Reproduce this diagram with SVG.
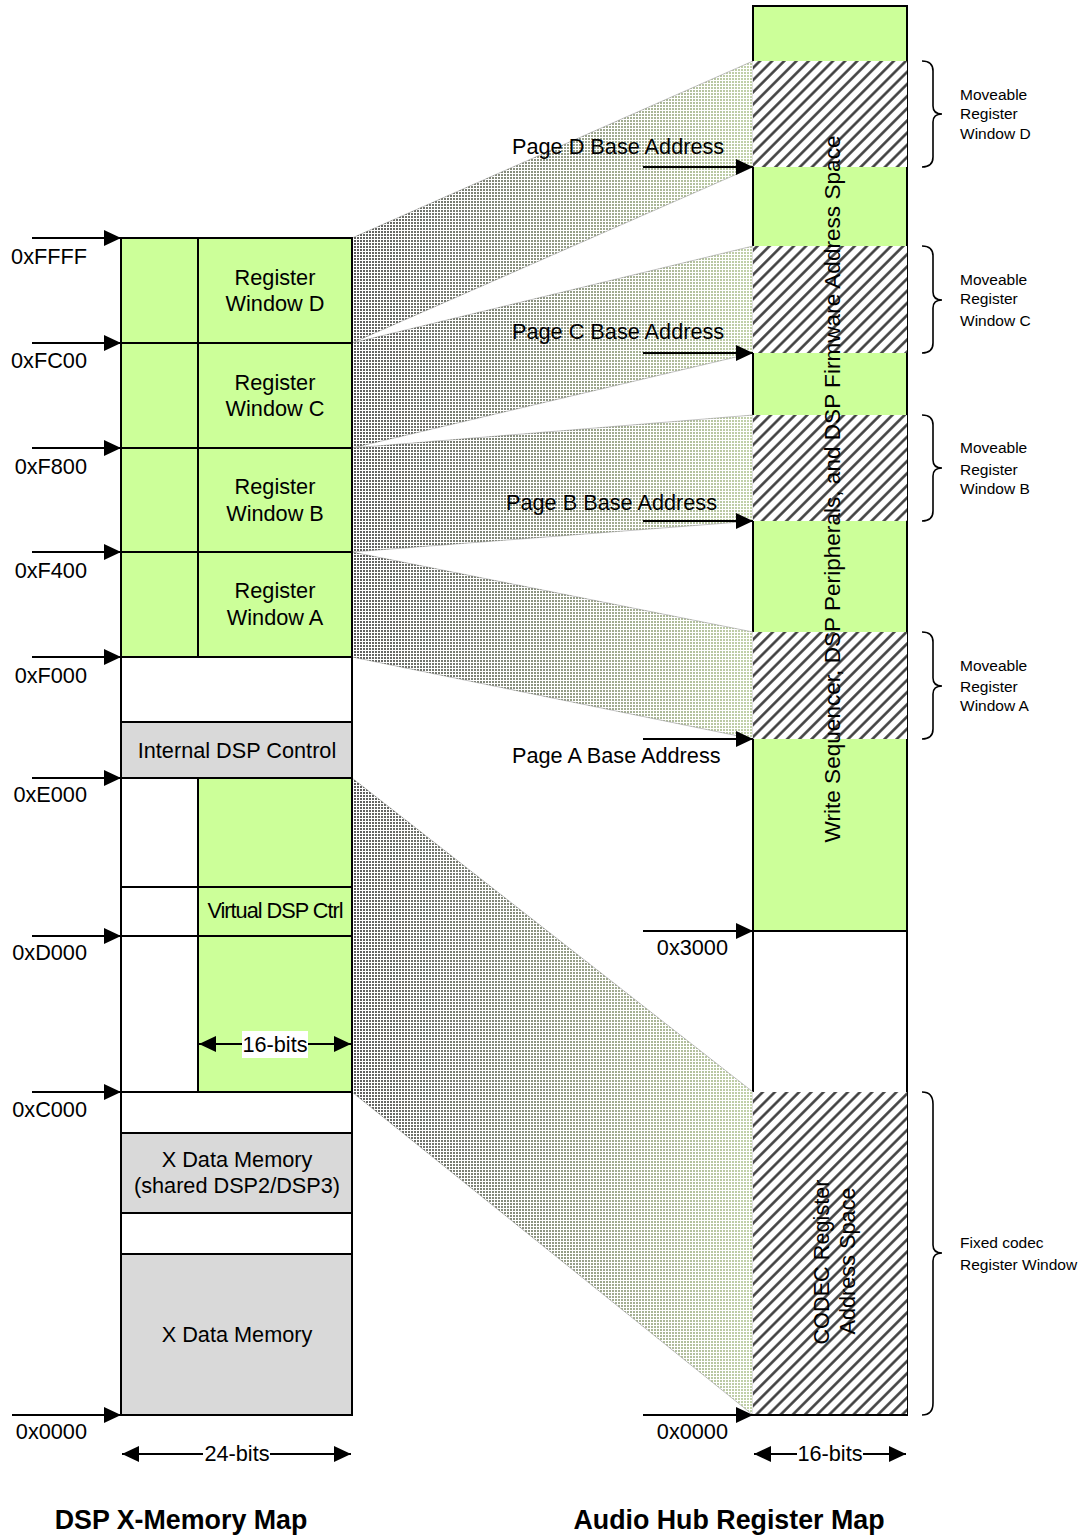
<svg xmlns="http://www.w3.org/2000/svg" width="1083" height="1536" viewBox="0 0 1083 1536">
<style>
text{font-family:"Liberation Sans",Arial,sans-serif;fill:#000}
.t{font-size:21.7px}
.c{text-anchor:middle}
.e{text-anchor:end}
.s{font-size:15.5px}
.h{font-size:26.8px;font-weight:bold;text-anchor:middle}
.box{stroke:#000;stroke-width:2}
.g{fill:#ccff99}
.w{fill:#fff}
.k{fill:#d9d9d9}
.ln{stroke:#000;stroke-width:2;fill:none}
.arr{stroke:#000;stroke-width:2;fill:none;marker-end:url(#ah)}
.dbl{stroke:#000;stroke-width:2;fill:none;marker-end:url(#ah);marker-start:url(#ahs)}
.br{stroke:#000;stroke-width:1.6;fill:none}
.band{stroke:#9a9a9a;stroke-width:0.6}
</style>
<defs>
<marker id="ah" markerUnits="userSpaceOnUse" markerWidth="18" markerHeight="16" refX="17" refY="8" orient="auto"><path d="M0,0 L17,8 L0,16 z" fill="#000"/></marker>
<marker id="ahs" markerUnits="userSpaceOnUse" markerWidth="18" markerHeight="16" refX="17" refY="8" orient="auto-start-reverse"><path d="M0,0 L17,8 L0,16 z" fill="#000"/></marker>
<pattern id="dotG" width="3" height="3" patternUnits="userSpaceOnUse"><rect width="3" height="3" fill="#fff"/><rect width="2" height="2" fill="#c3d3aa"/></pattern>
<pattern id="dotK" width="3" height="3" patternUnits="userSpaceOnUse"><rect width="2" height="2" fill="#5e5e5e"/></pattern>
<linearGradient id="fade" gradientUnits="userSpaceOnUse" x1="352" y1="0" x2="753" y2="0"><stop offset="0" stop-color="#fff"/><stop offset="1" stop-color="#000"/></linearGradient>
<mask id="fm" maskUnits="userSpaceOnUse" x="340" y="0" width="420" height="1536"><rect x="340" y="0" width="420" height="1536" fill="url(#fade)"/></mask>
<pattern id="hatch" width="8.6" height="8.6" patternUnits="userSpaceOnUse" patternTransform="rotate(45)"><rect width="8.6" height="8.6" fill="#fff"/><line x1="4.3" y1="0" x2="4.3" y2="8.6" stroke="#3a3a3a" stroke-width="2.5"/></pattern>
</defs>

<g id="hub-column">
<rect x="753" y="6" width="154" height="925" class="box g"/>
<rect x="753" y="931" width="154" height="484" class="box w"/>
</g>

<g id="bands">
<g id="bands-green">
<polygon class="band" fill="url(#dotG)" points="352,238 753,61 753,167 352,343"/>
<polygon class="band" fill="url(#dotG)" points="352,343 753,246 753,353 352,448"/>
<polygon class="band" fill="url(#dotG)" points="352,448 753,415 753,521 352,552"/>
<polygon class="band" fill="url(#dotG)" points="352,552 753,632 753,739 352,657"/>
<polygon class="band" fill="url(#dotG)" points="352,778 753,1092 753,1415 352,1092"/>
</g>
<g id="bands-gray" mask="url(#fm)" fill="url(#dotK)">
<polygon points="352,238 753,61 753,167 352,343"/>
<polygon points="352,343 753,246 753,353 352,448"/>
<polygon points="352,448 753,415 753,521 352,552"/>
<polygon points="352,552 753,632 753,739 352,657"/>
<polygon points="352,778 753,1092 753,1415 352,1092"/>
</g>
</g>

<g id="hub-windows">
<rect id="win-d" x="753" y="61" width="154" height="106" fill="url(#hatch)"/>
<rect id="win-c" x="753" y="246" width="154" height="107" fill="url(#hatch)"/>
<rect id="win-b" x="753" y="415" width="154" height="106" fill="url(#hatch)"/>
<rect id="win-a" x="753" y="632" width="154" height="107" fill="url(#hatch)"/>
<rect id="win-codec" x="753" y="1092" width="154" height="323" fill="url(#hatch)"/>
<line x1="752" y1="1415" x2="908" y2="1415" class="ln"/>
<text class="c" font-size="22.6" transform="translate(840,489) rotate(-90)">Write Sequencer, DSP Peripherals, and DSP Firmware Address Space</text>
<text class="t c" transform="translate(829,1262) rotate(-90)">CODEC Register</text>
<text class="t c" transform="translate(855,1261) rotate(-90)">Address Space</text>
</g>

<g id="xmem">
<g id="reg-d"><rect x="121" y="238" width="231" height="105" class="box g"/><line x1="198" y1="238" x2="198" y2="343" class="ln"/><text class="t c" x="275" y="285">Register</text><text class="t c" x="275" y="311">Window D</text></g>
<g id="reg-c"><rect x="121" y="343" width="231" height="105" class="box g"/><line x1="198" y1="343" x2="198" y2="448" class="ln"/><text class="t c" x="275" y="390">Register</text><text class="t c" x="275" y="416">Window C</text></g>
<g id="reg-b"><rect x="121" y="448" width="231" height="104" class="box g"/><line x1="198" y1="448" x2="198" y2="552" class="ln"/><text class="t c" x="275" y="494">Register</text><text class="t c" x="275" y="521">Window B</text></g>
<g id="reg-a"><rect x="121" y="552" width="231" height="105" class="box g"/><line x1="198" y1="552" x2="198" y2="657" class="ln"/><text class="t c" x="275" y="598">Register</text><text class="t c" x="275" y="625">Window A</text></g>
<g id="gap1"><rect x="121" y="657" width="231" height="65" class="box w"/></g>
<g id="internal-ctrl"><rect x="121" y="722" width="231" height="56" class="box k"/><text class="t c" x="237" y="758">Internal DSP Control</text></g>
<g id="virt-upper"><rect x="121" y="778" width="77" height="109" class="box w"/><rect x="198" y="778" width="154" height="109" class="box g"/></g>
<g id="virt-ctrl"><rect x="121" y="887" width="77" height="49" class="box w"/><rect x="198" y="887" width="154" height="49" class="box g"/><text class="t c" x="275" y="918" letter-spacing="-1">Virtual DSP Ctrl</text></g>
<g id="virt-lower"><rect x="121" y="936" width="77" height="156" class="box w"/><rect x="198" y="936" width="154" height="156" class="box g"/></g>
<g id="gap2"><rect x="121" y="1092" width="231" height="41" class="box w"/></g>
<g id="xdata-shared"><rect x="121" y="1133" width="231" height="80" class="box k"/><text class="t c" x="237" y="1167">X Data Memory</text><text class="t c" x="237" y="1193">(shared DSP2/DSP3)</text></g>
<g id="gap3"><rect x="121" y="1213" width="231" height="41" class="box w"/></g>
<g id="xdata"><rect x="121" y="1254" width="231" height="161" class="box k"/><text class="t c" x="237" y="1342">X Data Memory</text></g>
</g>

<g id="connectors">
<line x1="32" y1="238" x2="121" y2="238" class="arr"/>
<line x1="32" y1="343" x2="121" y2="343" class="arr"/>
<line x1="32" y1="448" x2="121" y2="448" class="arr"/>
<line x1="32" y1="552" x2="121" y2="552" class="arr"/>
<line x1="32" y1="657" x2="121" y2="657" class="arr"/>
<line x1="32" y1="778" x2="121" y2="778" class="arr"/>
<line x1="32" y1="936" x2="121" y2="936" class="arr"/>
<line x1="32" y1="1092" x2="121" y2="1092" class="arr"/>
<line x1="12" y1="1415" x2="121" y2="1415" class="arr"/>
<line x1="643" y1="167" x2="753" y2="167" class="arr"/>
<line x1="643" y1="353" x2="753" y2="353" class="arr"/>
<line x1="643" y1="521" x2="753" y2="521" class="arr"/>
<line x1="643" y1="739" x2="753" y2="739" class="arr"/>
<line x1="643" y1="931" x2="753" y2="931" class="arr"/>
<line x1="643" y1="1415" x2="753" y2="1415" class="arr"/>
<line x1="199" y1="1044" x2="351" y2="1044" class="dbl"/>
<line x1="122" y1="1454" x2="351" y2="1454" class="dbl"/>
<line x1="754" y1="1454" x2="906" y2="1454" class="dbl"/>
</g>

<g id="address-labels">
<text class="t e" x="87" y="264">0xFFFF</text>
<text class="t e" x="87" y="368">0xFC00</text>
<text class="t e" x="87" y="474">0xF800</text>
<text class="t e" x="87" y="578">0xF400</text>
<text class="t e" x="87" y="683">0xF000</text>
<text class="t e" x="87" y="802">0xE000</text>
<text class="t e" x="87" y="960">0xD000</text>
<text class="t e" x="87" y="1117">0xC000</text>
<text class="t e" x="87" y="1439">0x0000</text>
<text class="t e" x="728" y="955">0x3000</text>
<text class="t e" x="728" y="1439">0x0000</text>
<text class="t" x="512" y="154">Page D Base Address</text>
<text class="t" x="512" y="339">Page C Base Address</text>
<text class="t" x="506" y="510">Page B Base Address</text>
<text class="t" x="512" y="763">Page A Base Address</text>
</g>

<g id="width-labels">
<rect x="242" y="1031" width="66" height="27" fill="#fff"/>
<text class="t c" x="275" y="1052">16-bits</text>
<rect x="203" y="1440" width="67" height="26" fill="#fff"/>
<text class="t c" x="237" y="1461">24-bits</text>
<rect x="797" y="1440" width="66" height="26" fill="#fff"/>
<text class="t c" x="830" y="1461">16-bits</text>
</g>

<g id="braces">
<path class="br" d="M922,61 Q933,61 933,71 L933,106 Q933,114 942,114 Q933,114 933,122 L933,157 Q933,167 922,167"/>
<path class="br" d="M922,246 Q933,246 933,256 L933,292 Q933,300 942,300 Q933,300 933,308 L933,343 Q933,353 922,353"/>
<path class="br" d="M922,415 Q933,415 933,425 L933,460 Q933,468 942,468 Q933,468 933,476 L933,511 Q933,521 922,521"/>
<path class="br" d="M922,632 Q933,632 933,642 L933,678 Q933,686 942,686 Q933,686 933,694 L933,729 Q933,739 922,739"/>
<path class="br" d="M922,1092 Q933,1092 933,1104 L933,1245 Q933,1253 942,1253 Q933,1253 933,1261 L933,1403 Q933,1415 922,1415"/>
<text class="s" x="960" y="100">Moveable</text><text class="s" x="960" y="119">Register</text><text class="s" x="960" y="139">Window D</text>
<text class="s" x="960" y="285">Moveable</text><text class="s" x="960" y="304">Register</text><text class="s" x="960" y="326">Window C</text>
<text class="s" x="960" y="453">Moveable</text><text class="s" x="960" y="475">Register</text><text class="s" x="960" y="494">Window B</text>
<text class="s" x="960" y="671">Moveable</text><text class="s" x="960" y="692">Register</text><text class="s" x="960" y="711">Window A</text>
<text class="s" x="960" y="1248">Fixed codec</text><text class="s" x="960" y="1270">Register Window</text>
</g>

<g id="titles">
<text class="h" x="181" y="1529">DSP X-Memory Map</text>
<text class="h" x="729" y="1529">Audio Hub Register Map</text>
</g>
</svg>
